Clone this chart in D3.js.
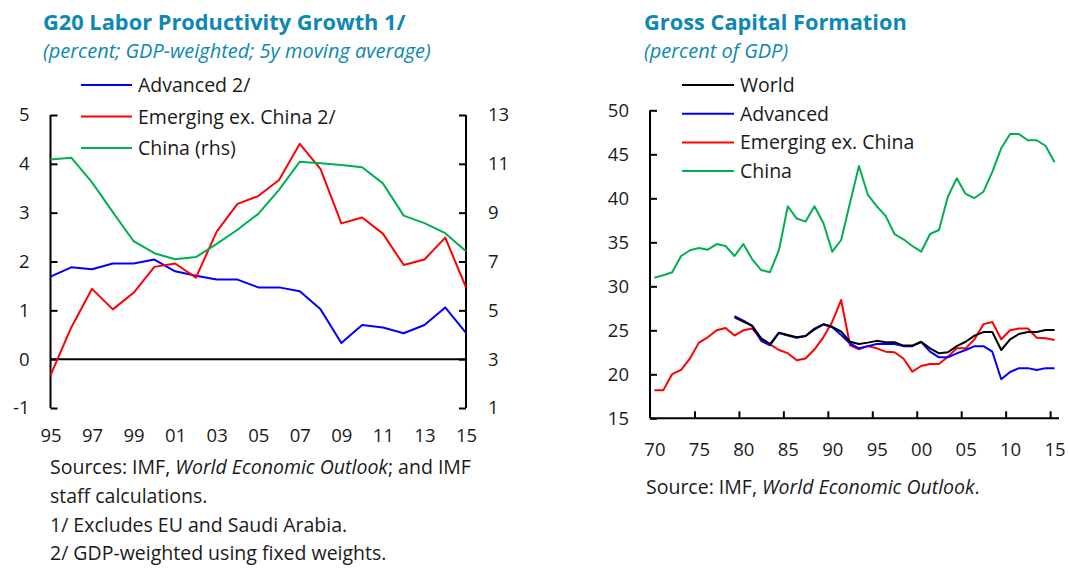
<!DOCTYPE html>
<html>
<head>
<meta charset="utf-8">
<script src="https://cdn.jsdelivr.net/npm/d3@7"></script>
<style>
  body { margin: 0; background: #fff; }
  svg text { font-family: "Open Sans", "Noto Sans", sans-serif; fill: #1a1a1a; }
  .title { font-weight: bold; fill: #0e87b4; font-size: 21.8px; }
  .sub { font-style: italic; fill: #0e87b4; font-size: 20px; }
  .axis text { font-size: 18.5px; }
  .leg { font-size: 19.5px; }
  .note { font-size: 19.5px; }
</style>
</head>
<body>
<div id="chart"></div>
<script>
/* Left panel: G20 labor productivity, 1995-2015 */
var years1 = d3.range(1995, 2016);
var advanced = [1.69, 1.88, 1.84, 1.96, 1.96, 2.04, 1.80, 1.71, 1.63, 1.63, 1.47,
                1.47, 1.39, 1.02, 0.33, 0.70, 0.65, 0.53, 0.70, 1.06, 0.54];
var emerging = [-0.33, 0.65, 1.44, 1.02, 1.36, 1.89, 1.96, 1.67, 2.61, 3.18, 3.34,
                3.67, 4.41, 3.89, 2.78, 2.90, 2.57, 1.93, 2.04, 2.49, 1.47];
var china = [11.18, 11.25, 10.24, 9.02, 7.83, 7.34, 7.09, 7.18, 7.72, 8.30, 8.95,
             9.93, 11.09, 11.02, 10.95, 10.86, 10.20, 8.88, 8.57, 8.16, 7.42];
var leftTicks = [-1, 0, 1, 2, 3, 4, 5];
var rightTicks = [1, 3, 5, 7, 9, 11, 13];
var xTicks1 = [1995, 1997, 1999, 2001, 2003, 2005, 2007, 2009, 2011, 2013, 2015];

/* Right panel: gross capital formation, 1970-2015 */
var years2 = d3.range(1970, 2016);
var gcfWorld = [null, null, null, null, null, null, null, null, null,
  26.48, 25.98, 25.5, 24.1, 23.44, 24.73, 24.47, 24.2, 24.35, 25.1,
  25.68, 25.4, 24.84, 23.7, 23.44, 23.6, 23.8, 23.65, 23.65, 23.26,
  23.26, 23.7, 22.95, 22.38, 22.5, 23.2, 23.7, 24.39, 24.8, 24.8,
  22.76, 23.98, 24.58, 24.8, 24.8, 25.03, 25.03];
var gcfAdv = [null, null, null, null, null, null, null, null, null,
  26.6, 26.1, 25.5, 23.8, 23.3, 24.7, 24.4, 24.16, 24.35, 25.2,
  25.68, 25.34, 24.47, 23.5, 22.95, 23.2, 23.44, 23.44, 23.44, 23.2,
  23.2, 23.67, 22.57, 21.93, 21.93, 22.38, 22.76, 23.2, 23.2, 22.57,
  19.43, 20.26, 20.7, 20.7, 20.5, 20.7, 20.7];
var gcfEm = [18.2, 18.2, 20.03, 20.5, 21.8, 23.6, 24.2, 25.0, 25.26, 24.4,
  25.0, 25.2, 23.98, 23.4, 22.76, 22.4, 21.6, 21.8, 22.84, 24.2,
  25.98, 28.44, 23.3, 22.84, 23.2, 22.95, 22.57, 22.5, 21.8, 20.3,
  20.94, 21.17, 21.17, 22.0, 22.95, 22.95, 23.98, 25.7, 25.94, 23.98,
  25.0, 25.2, 25.2, 24.16, 24.1, 23.9];
var gcfChina = [30.98, 31.25, 31.6, 33.44, 34.1, 34.35, 34.16, 34.8, 34.58, 33.44,
  34.8, 33.07, 31.85, 31.6, 34.1, 39.1, 37.7, 37.35, 39.1, 37.2,
  33.93, 35.26, 39.5, 43.67, 40.4, 39.1, 38.0, 35.94, 35.34, 34.58,
  33.93, 35.94, 36.4, 40.18, 42.27, 40.5, 40.03, 40.75, 43.0, 45.68,
  47.3, 47.3, 46.6, 46.6, 45.94, 44.1];
var gcfTicks = [15, 20, 25, 30, 35, 40, 45, 50];
var xLabels2 = [1970, 1975, 1980, 1985, 1990, 1995, 2000, 2005, 2010, 2015];

var BLUE = "#0000ff", RED = "#ff0000", GREEN = "#00b050", BLACK = "#000";

var svg = d3.select("#chart").append("svg").attr("width", 1070).attr("height", 568);

function yy(d) { return d % 100 < 10 ? "0" + (d % 100) : String(d % 100); }
function plain(d) { return String(d); }   // keep "-1" with a hyphen like the original

/* ---------- left panel ---------- */
var x1 = d3.scaleLinear().domain([1995, 2015]).range([50.5, 466]);
var yL = d3.scaleLinear().domain([-1, 5]).range([408, 115]);
var yR = d3.scaleLinear().domain([1, 13]).range([408, 115]);

svg.append("text").attr("class", "title").attr("x", 43).attr("y", 30)
    .text("G20 Labor Productivity Growth 1/");
svg.append("text").attr("class", "sub").attr("x", 43).attr("y", 58)
    .text("(percent; GDP-weighted; 5y moving average)");

svg.append("g").attr("class", "axis").attr("transform", "translate(50.5,0)")
    .call(d3.axisLeft(yL).tickValues(leftTicks).tickSize(-7).tickPadding(21).tickFormat(plain))
  .call(function(g) {
    g.select(".domain").attr("d", "M0," + yL(5) + "V" + yL(-1));
    g.selectAll("line, path").attr("stroke", "#000").attr("stroke-width", 2);
  });

svg.append("g").attr("class", "axis").attr("transform", "translate(466,0)")
    .call(d3.axisRight(yR).tickValues(rightTicks).tickSize(-7).tickPadding(22).tickFormat(plain))
  .call(function(g) {
    g.select(".domain").attr("d", "M0," + yR(13) + "V" + yR(1));
    g.selectAll("line, path").attr("stroke", "#000").attr("stroke-width", 2);
  });

svg.append("line").attr("x1", x1(1995)).attr("x2", x1(2015))
    .attr("y1", yL(0)).attr("y2", yL(0)).attr("stroke", "#000").attr("stroke-width", 2);

svg.append("g").attr("class", "axis").attr("transform", "translate(0,426)")
    .call(d3.axisBottom(x1).tickValues(xTicks1).tickSize(0).tickPadding(3).tickFormat(yy))
  .call(function(g) { g.select(".domain").remove(); });

var lineL = d3.line().x(function(d, i) { return x1(years1[i]); }).y(function(d) { return yL(d); });
var lineR = d3.line().x(function(d, i) { return x1(years1[i]); }).y(function(d) { return yR(d); });

[[advanced, BLUE, lineL], [emerging, RED, lineL], [china, GREEN, lineR]].forEach(function(s) {
  svg.append("path").datum(s[0]).attr("fill", "none").attr("stroke", s[1])
      .attr("stroke-width", 2).attr("stroke-linejoin", "round").attr("d", s[2]);
});

var leg1 = [["Advanced 2/", BLUE], ["Emerging ex. China 2/", RED], ["China (rhs)", GREEN]];
leg1.forEach(function(d, i) {
  var y = 85 + i * 31.5;
  svg.append("line").attr("x1", 81).attr("x2", 132).attr("y1", y).attr("y2", y)
      .attr("stroke", d[1]).attr("stroke-width", 2);
  svg.append("text").attr("class", "leg").attr("x", 138).attr("y", y + 7).text(d[0]);
});

var notes1 = svg.append("text").attr("class", "note").attr("x", 50).attr("y", 474);
notes1.append("tspan").text("Sources: IMF, ");
notes1.append("tspan").attr("font-style", "italic").text("World Economic Outlook");
notes1.append("tspan").text("; and IMF");
["staff calculations.", "1/ Excludes EU and Saudi Arabia.", "2/ GDP-weighted using fixed weights."]
  .forEach(function(t, i) {
    svg.append("text").attr("class", "note").attr("x", 50).attr("y", 503 + i * 28.7).text(t);
  });

/* ---------- right panel ---------- */
var x2 = d3.scaleLinear().domain([1969.5, 2015.5]).range([650, 1059]);
var y2 = d3.scaleLinear().domain([15, 50]).range([418.3, 110.3]);

svg.append("text").attr("class", "title").attr("x", 644).attr("y", 30)
    .text("Gross Capital Formation");
svg.append("text").attr("class", "sub").attr("x", 644).attr("y", 58)
    .text("(percent of GDP)");

svg.append("g").attr("class", "axis").attr("transform", "translate(650,0)")
    .call(d3.axisLeft(y2).tickValues(gcfTicks).tickSize(-7).tickPadding(21))
  .call(function(g) {
    g.select(".domain").attr("d", "M0," + y2(50) + "V" + y2(15));
    g.selectAll("line, path").attr("stroke", "#000").attr("stroke-width", 2);
  });

svg.append("g").attr("transform", "translate(0," + y2(15) + ")")
    .call(d3.axisBottom(x2).tickValues(d3.range(1974.5, 2015, 5)).tickSize(-7).tickFormat(""))
  .call(function(g) {
    g.select(".domain").attr("d", "M650,0H1059");
    g.selectAll("line, path").attr("stroke", "#000").attr("stroke-width", 2);
  });

svg.append("g").attr("class", "axis").attr("transform", "translate(0,440)")
    .call(d3.axisBottom(x2).tickValues(xLabels2).tickSize(0).tickPadding(3).tickFormat(yy))
  .call(function(g) { g.select(".domain").remove(); });

var line2 = d3.line()
    .defined(function(d) { return d != null; })
    .x(function(d, i) { return x2(years2[i]); })
    .y(function(d) { return y2(d); });

[[gcfChina, GREEN], [gcfEm, RED], [gcfAdv, BLUE], [gcfWorld, BLACK]].forEach(function(s) {
  svg.append("path").datum(s[0]).attr("fill", "none").attr("stroke", s[1])
      .attr("stroke-width", 2).attr("stroke-linejoin", "round").attr("d", line2);
});

var leg2 = [["World", BLACK], ["Advanced", BLUE], ["Emerging ex. China", RED], ["China", GREEN]];
leg2.forEach(function(d, i) {
  var y = 85 + i * 28.7;
  svg.append("line").attr("x1", 682).attr("x2", 734).attr("y1", y).attr("y2", y)
      .attr("stroke", d[1]).attr("stroke-width", 2);
  svg.append("text").attr("class", "leg").attr("x", 740).attr("y", y + 7).text(d[0]);
});

var notes2 = svg.append("text").attr("class", "note").attr("x", 646).attr("y", 494);
notes2.append("tspan").text("Source: IMF, ");
notes2.append("tspan").attr("font-style", "italic").text("World Economic Outlook");
notes2.append("tspan").text(".");
</script>
</body>
</html>
